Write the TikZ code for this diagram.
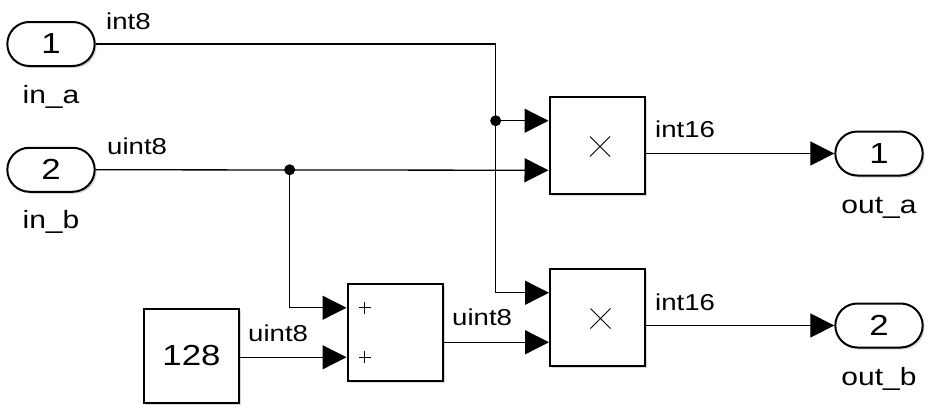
\documentclass[tikz,border=0pt]{standalone}
\usepackage{fontspec}
\setmainfont{Liberation Sans}[FakeStretch=1.2]
\usetikzlibrary{arrows.meta,shapes.misc,shadows,calc}

\begin{document}
\begin{tikzpicture}[
  x=1pt, y=-1pt,
  blk/.style={rectangle, draw, line width=2pt, fill=white, minimum width=95pt, minimum height=97pt,
    drop shadow={shadow xshift=2pt, shadow yshift=-2pt, opacity=0.3}},
  port/.style={rounded rectangle, draw, line width=2pt, fill=white, minimum width=94pt, minimum height=44pt,
    font=\fontsize{29}{31}\selectfont, drop shadow={shadow xshift=2pt, shadow yshift=-2pt, opacity=0.3}},
  sig/.style={line width=1.3pt, -{Triangle[length=24pt, width=24pt]}},
  lbl/.style={anchor=base west, inner sep=0pt, font=\fontsize{23}{25}\selectfont},
  portname/.style={anchor=base, inner sep=0pt, font=\fontsize{25}{27}\selectfont}
]
\useasboundingbox (0,0) rectangle (932,413);

\node[port] (ina) at (51,44) {1};
\node[port] (inb) at (51,169.75) {2};
\node[blk, minimum height=94pt] (cst) at (191.5,356) {\fontsize{29}{31}\selectfont 128};
\node[blk] (sum) at (395,332.5) {};
\node[blk] (prodA) at (597,145.5) {};
\node[blk] (prodB) at (597.5,317.5) {};
\node[port] (outa) at (879,153.5) {1};
\node[port] (outb) at (879,325.5) {2};

\foreach \b in {sum,prodA,prodB} {
  \coordinate (\b-1) at ($(\b.north west)!.25!(\b.south west)$);
  \coordinate (\b-2) at ($(\b.north west)!.75!(\b.south west)$);
}
\coordinate (jx) at ([xshift=400pt]ina.east);
\coordinate (ja) at (jx |- prodA-1);
\coordinate (jb) at ([xshift=194pt]inb.east);

\draw[sig] (ina.east) -| (ja) |- (prodB-1);
\draw[sig] (ja) -- (prodA-1);
\draw[sig] (inb.east) -- (prodA-2);
\draw[sig] (jb) |- (sum-1);
\draw[sig] (cst.east |- sum-2) -- (sum-2);
\draw[sig] (sum.east |- prodB-2) -- (prodB-2);
\draw[sig] (prodA.east |- outa) -- (outa.west);
\draw[sig] (prodB.east |- outb) -- (outb.west);
\fill (ja) circle (5.5pt);
\fill (jb) circle (5.5pt);

\foreach \b in {prodA,prodB}
  \draw[line width=0.8pt] ([shift={(-7pt,-11pt)}]\b.center) -- ([shift={(13pt,9pt)}]\b.center)
    ([shift={(-7pt,9pt)}]\b.center) -- ([shift={(13pt,-11pt)}]\b.center);
\foreach \p in {sum-1,sum-2}
  \draw[line width=0.8pt] ([xshift=12pt]\p) -- ([xshift=24pt]\p)
    ([xshift=18pt,yshift=6pt]\p) -- ([xshift=18pt,yshift=-6pt]\p);

\node[lbl] (l1) at (106,29) {int8};
\node[lbl] (l2) at (107,154) {uint8};
\node[lbl] (l3) at (248,341) {uint8};
\node[lbl] (l4) at (452,325) {uint8};
\node[lbl] (l5) at (655,137) {int16};
\node[lbl] (l6) at (655,310) {int16};
\node[portname] (na) at (51,103) {in\_a};
\node[portname] (nb) at (51,228) {in\_b};
\node[portname] (nc) at (879,213) {out\_a};
\node[portname] (nd) at (879,385) {out\_b};
\end{tikzpicture}
\end{document}
